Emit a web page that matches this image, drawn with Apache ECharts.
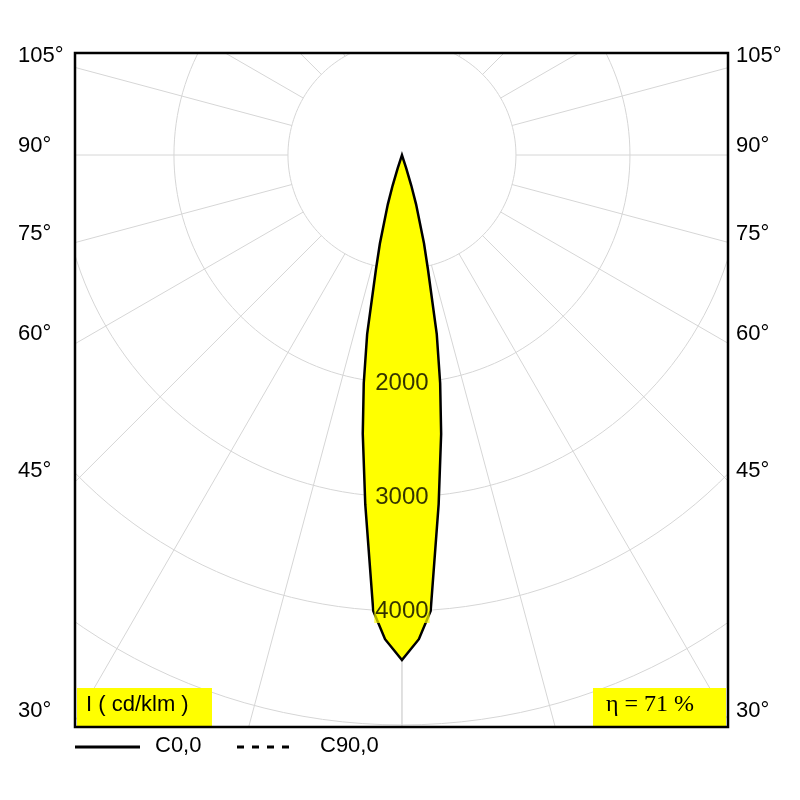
<!DOCTYPE html>
<html><head><meta charset="utf-8">
<script src="https://cdn.jsdelivr.net/npm/echarts@6/dist/echarts.min.js"></script>
<style>html,body{margin:0;padding:0;background:#fff}#c{width:800px;height:800px}</style>
</head><body><div id="c"></div>
<script>
// gamma angles (deg from nadir) and intensities (cd/klm), C0 plane
const gammaDeg = [0, 2, 3.6, 6, 8, 9.5, 11, 12.8, 14, 16, 17, 18, 19];
const c0Values = [4430, 4250, 4008, 3080, 2470, 2030, 1600, 1030, 800, 450, 280, 120, 0];
const c90Values = c0Values.slice();
const ringValues = [1000, 2000, 3000, 4000, 5000, 6000];
const ringLabels = ['2000', '3000', '4000'];
const angleLabels = ['105°', '90°', '75°', '60°', '45°', '30°'];
const labelY = [57, 147, 235, 335, 472, 712];

function curve(vals) {
  const pts = [];
  for (let i = gammaDeg.length - 1; i >= 0; i--) {
    const g = gammaDeg[i] * Math.PI / 180;
    pts.push([-vals[i] * Math.sin(g), -vals[i] * Math.cos(g)]);
  }
  for (let i = 1; i < gammaDeg.length; i++) {
    const g = gammaDeg[i] * Math.PI / 180;
    pts.push([vals[i] * Math.sin(g), -vals[i] * Math.cos(g)]);
  }
  return pts;
}
const series = [];
const gridStyle = { color: '#d6d6d6', width: 1 };
ringValues.forEach(r => {
  const d = [];
  for (let a = 0; a <= 360; a += 2) { const t = a * Math.PI / 180; d.push([r * Math.sin(t), r * Math.cos(t)]); }
  series.push({ type: 'line', data: d, symbol: 'none', lineStyle: gridStyle, silent: true, z: 1 });
});
for (let a = 0; a <= 345; a += 15) {
  const t = a * Math.PI / 180;
  series.push({ type: 'line', data: [[1000 * Math.sin(t), -1000 * Math.cos(t)], [8000 * Math.sin(t), -8000 * Math.cos(t)]],
    symbol: 'none', lineStyle: gridStyle, silent: true, z: 1 });
}
series.push({ type: 'line', data: [[0, -1000], [0, -8000]], symbol: 'none', lineStyle: gridStyle, z: 1 });
function polySeries(vals, dashed, fill) {
  const pts = curve(vals);
  return { type: 'custom', z: dashed ? 4 : 3, data: [0],
    renderItem: (p, api) => ({ type: 'polygon',
      shape: { points: pts.map(q => api.coord(q)) },
      style: { fill: fill ? '#ffff00' : 'none', stroke: '#000', lineWidth: 2.5, lineDash: dashed ? [5, 5] : null } }) };
}
series.push(polySeries(c0Values, false, true));
series.push({ type: 'scatter', symbolSize: 0, z: 6,
  data: ringLabels.map(s => [0, -Number(s)]),
  label: { show: true, formatter: p => String(-p.value[1]), fontSize: 24, color: '#000', fontFamily: 'Liberation Sans',
    backgroundColor: 'rgba(255,255,0,0.85)', padding: [0, 1] } });

const graphic = [];
angleLabels.forEach((t, i) => {
  graphic.push({ type: 'text', left: 18, top: labelY[i] - 12, style: { text: t, fontSize: 22, fill: '#000', fontFamily: 'Liberation Sans' } });
  graphic.push({ type: 'text', left: 736, top: labelY[i] - 12, style: { text: t, fontSize: 22, fill: '#000', fontFamily: 'Liberation Sans' } });
});
graphic.push({ type: 'rect', shape: { x: 77, y: 688, width: 135, height: 38 }, style: { fill: '#ffff00' }, z: 10 });
graphic.push({ type: 'text', x: 86, y: 694, style: { text: 'I ( cd/klm )', fontSize: 22, fill: '#000', fontFamily: 'Liberation Sans' }, z: 11 });
graphic.push({ type: 'rect', shape: { x: 593, y: 688, width: 133, height: 38 }, style: { fill: '#ffff00' }, z: 10 });
graphic.push({ type: 'text', x: 606, y: 693, style: { text: 'η = 71 %', fontSize: 24, fill: '#000', fontFamily: 'Liberation Serif' }, z: 11 });
graphic.push({ type: 'line', shape: { x1: 75, y1: 747, x2: 140, y2: 747 }, style: { stroke: '#000', lineWidth: 3 } });
graphic.push({ type: 'text', x: 155, y: 735, style: { text: 'C0,0', fontSize: 22, fill: '#000', fontFamily: 'Liberation Sans' } });
graphic.push({ type: 'line', shape: { x1: 237, y1: 747, x2: 297, y2: 747 }, style: { stroke: '#000', lineWidth: 3, lineDash: [7, 8] } });
graphic.push({ type: 'text', x: 320, y: 735, style: { text: 'C90,0', fontSize: 22, fill: '#000', fontFamily: 'Liberation Sans' } });

const chart = echarts.init(document.getElementById('c'));
chart.setOption({
  animation: false,
  grid: { left: 75, right: 72, top: 53, bottom: 73, show: true, borderColor: '#000', borderWidth: 2.5, z: 20 },
  xAxis: { type: 'value', min: -2868, max: 2860, show: false },
  yAxis: { type: 'value', min: -5018, max: 895, show: false },
  series, graphic
});
</script></body></html>
